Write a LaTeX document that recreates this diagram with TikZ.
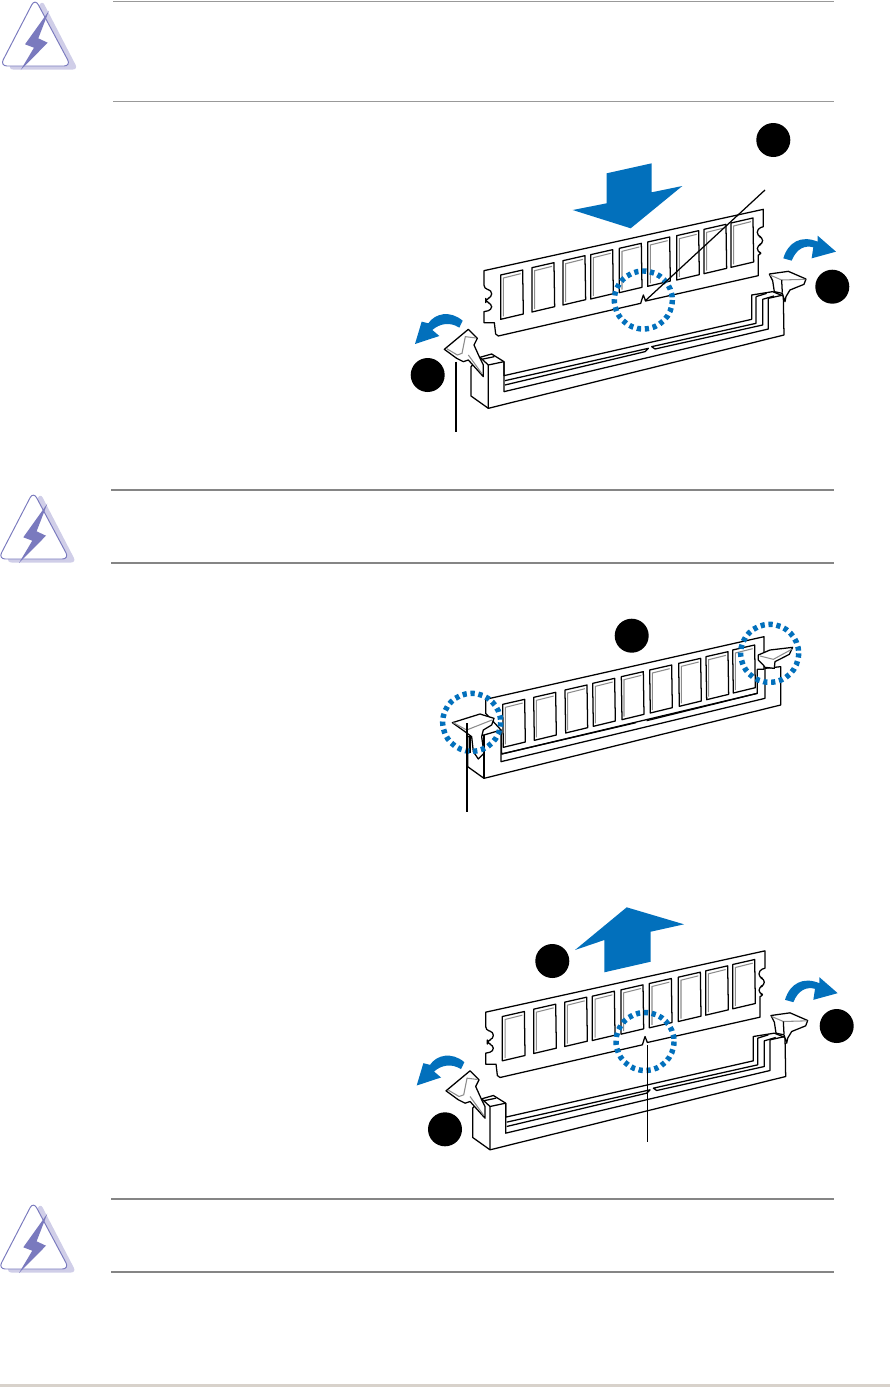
\documentclass[tikz,border=0pt]{standalone}
\definecolor{dimmblue}{RGB}{2,112,188}
\definecolor{boltblue}{RGB}{122,122,190}
\definecolor{boltshade}{RGB}{208,206,232}
\definecolor{footband}{RGB}{216,210,203}
\tikzset{
    ln/.style={draw=black, line width=0.72pt, line join=round},
    sheet/.style={ln, fill=white},
    grayln/.style={draw=black!45, line width=0.6pt},
    bigarr/.style={fill=dimmblue, draw=none},
    ring/.style={draw=dimmblue, line width=3.1pt, dash pattern=on 2.4pt off 2.13pt},
    blob/.style={circle, fill=black, draw=none, minimum size=0.68cm, inner sep=0pt},
    leader/.style={draw=black, line width=0.7pt},
    zoomed/.style={x=0.0066667cm, y=-0.0066667cm},
}
% module, socket and open latches, in 3x crop units
\newcommand{\openslot}[1]{%
\begin{scope}[shift={#1}, zoomed]
  \draw[sheet] (252,482) -- (1090,298) -- (1090,350) [rounded corners=2pt] -- (1072,356) -- (1072,378)
     -- (1088,382) -- (1088,402) -- (1072,406) -- (1072,426) -- (1088,430) [sharp corners] -- (1075,435) -- (1075,497)
     -- (737,573) -- (730,555) -- (722,580) -- (295,678) -- (287,672) -- (283,638) -- (252,638) -- (252,605)
     [rounded corners=2pt] -- (275,600) -- (275,581) -- (257,576) -- (257,567) -- (275,562) -- (275,541) -- (252,536) [sharp corners] -- cycle;
  \foreach \cx/\cy in {302/495, 396/473, 489/452, 572/434, 658/415, 743/396, 830/377, 912/358, 993/339} {
    \draw[ln] (\cx,\cy) -- ++(66,-15) -- ++(2,132) -- ++(-68,16) -- cycle;
    \draw[grayln] (\cx+8,\cy+124) -- (\cx+8,\cy+9) -- (\cx+60,\cy-4);
  }
  % socket body
  \draw[sheet] (213,795) -- (213,858) -- (265,895) -- (1152,675) -- (1150,558) -- (1118,545) -- (1055,555) -- (1055,628)
     -- (312,797) -- (312,755) -- (275,732) -- (240,742) -- (213,770) -- cycle;
  \draw[ln] (265,895) -- (265,765) -- (312,755);
  \draw[ln] (240,742) -- (265,765);
  \draw[ln] (245,748) -- (283,740);
  \draw[ln] (312,755) -- (312,845) -- (1105,657) -- (1105,565) -- (1150,555);
  \draw[ln] (315,812) -- (745,715) -- (735,725) -- (315,825);
  \draw[ln] (1068,560) -- (1068,640) -- (755,710) -- (765,717) -- (1088,645) -- (1088,568) -- (1122,558);
  \draw[ln] (1068,560) -- (1100,550);
  % left latch
  \draw[sheet] (133,718) -- (205,658) -- (232,685) -- (222,705) -- (240,745) -- (250,765) -- (250,800) -- (205,750)
     -- (190,755) -- (170,745) -- cycle;
  \draw[grayln] (140,716) -- (172,735) -- (186,730) -- (196,680) -- (228,684);
  \draw[grayln] (205,735) -- (245,790);
  % right latch
  \draw[sheet] (1108,492) -- (1165,484) -- (1218,507) -- (1212,523) -- (1170,540) -- (1158,560) -- (1155,575)
     -- (1147,550) -- (1123,545) -- (1118,512) -- cycle;
  \draw[grayln] (1110,495) -- (1145,510) -- (1216,508);
  \draw[ln] (1145,510) -- (1147,548);
  % lever arrows
  \path[bigarr] (188,632) .. controls (150,600) and (105,610) .. (85,640) -- (65,635) -- (45,702) -- (118,678) -- (97,660)
     .. controls (120,640) and (150,635) .. (178,653) -- cycle;
  \path[bigarr] (1150,445) .. controls (1165,395) and (1205,375) .. (1253,395) -- (1253,377) -- (1308,425) -- (1235,445) -- (1240,412)
     .. controls (1215,405) and (1190,415) .. (1175,452) -- cycle;
  % key ring
  \draw[ring] (730,570) circle[radius=87];
\end{scope}}
% warning sign, one per note
\newcommand{\warnsign}[1]{%
\begin{scope}[shift={#1}]
  \path[fill=boltshade, rounded corners=3pt] (42,0) -- (78,69.5) -- (8,69.5) -- cycle;
  \path[fill=white, draw=boltblue, line width=0.55pt, rounded corners=4pt] (35,-1.5) -- (71,66) -- (0,66) -- cycle;
  \path[fill=boltblue] (49,10.7) -- (25,44.3) -- (34,47.7) -- (20.7,70) -- (47.7,42.7) -- (38.3,38.3) -- cycle;
\end{scope}}
\begin{document}
\begin{tikzpicture}[
    x=0.02cm, y=-0.02cm,
    % Note rules
    notelight/.style={draw=black!40, line width=0.55pt},
    notedark/.style={draw=black!48, line width=0.9pt},
]
\useasboundingbox (0,0) rectangle (890,1387);

%% ── Page foot ──
\path[fill=footband] (0,1384) rectangle (890,1387);

%% ── Note 1 ──
\warnsign{(0,0)}
\draw[notelight] (113,1) -- (834,1);
\draw[notelight] (113,101) -- (834,101);

%% ── Install: y = 110 ──
\openslot{(400,110)}
\path[bigarr] (606.7,173.3) -- (651.7,163.3) -- (651.7,192.3) -- (682.3,186) -- (630.7,228.3) -- (572.7,210) -- (606.7,203.3) -- cycle;
\node[blob] (b1) at (773.3,140) {};
\node[blob] (b2) at (832.3,286.7) {};
\node[blob] (b3) at (427.7,375) {};
\coordinate (keytop) at (765,190);
\coordinate (keyend) at (645,301);
\coordinate (clipend) at (456,361.7);
\coordinate (clipfoot) at (456,431.7);
\draw[leader] (keytop) -- (keyend);
\draw[leader] (clipend) -- (clipfoot);

%% ── Note 2 ──
\warnsign{(-1.7,493)}
\draw[notedark] (111,490) -- (834,490);
\draw[notedark] (111,563) -- (834,563);

%% ── Seated: y = 610 ──
\begin{scope}[shift={(420,610)}, zoomed]
  \draw[sheet] (197,310) -- (197,268) -- (1032,80) -- (1032,178) -- (1012,178) -- (1012,250) -- (245,432) -- (243,360) -- cycle;
  \foreach \cx/\cy in {248/283, 341/262, 435/240, 518/220, 604/200, 689/180, 776/160, 858/140, 938/120} {
    \draw[ln] (\cx,\cy) -- ++(66,-15) -- ++(2,128) -- ++(-66,16) -- cycle;
    \draw[grayln] (\cx+8,\cy+120) -- (\cx+8,\cy+9) -- (\cx+60,\cy-4);
  }
  \draw[sheet] (143,380) -- (143,470) -- (192,505) -- (1082,285) -- (1082,170) -- (1035,175) -- (1035,265) -- (243,455) -- (243,360) -- (192,375) -- cycle;
  \draw[ln] (192,505) -- (192,375);
  \draw[ln] (245,432) -- (648,338);
  \draw[ln] (680,332) -- (1012,250);
  % latches
  \draw[sheet] (97,338) -- (180,312) -- (222,325) -- (215,345) -- (190,360) -- (185,380) -- (192,430) -- (175,447) -- (160,425) -- (155,380) -- (135,365) -- cycle;
  \draw[grayln] (100,338) -- (140,360) -- (216,330);
  \draw[ln] (150,378) -- (150,428);
  \draw[sheet] (1015,135) -- (1050,120) -- (1118,112) -- (1108,133) -- (1065,155) -- (1063,175) -- (1035,172) -- (1030,165) -- (1015,150) -- cycle;
  \draw[grayln] (1020,138) -- (1060,148) -- (1115,118);
  % rings
  \draw[ring] (155,337) circle[radius=87];
  \draw[ring] (1049,130) circle[radius=87];
\end{scope}
\node[blob] (b4) at (631.7,635.7) {};
\coordinate (tabend) at (467,723.3);
\coordinate (tabfoot) at (467,812.3);
\draw[leader] (tabend) -- (tabfoot);

%% ── Remove: y = 851 ──
\openslot{(401.7,851.5)}
\path[bigarr] (626.7,907.3) -- (684,924.3) -- (650.7,931.7) -- (650.7,961.7) -- (604.3,972.3) -- (604.3,940) -- (575,950) -- cycle;
\node[blob] (b5) at (552.3,961) {};
\node[blob] (b6) at (836.7,1026) {};
\node[blob] (b7) at (445,1129.3) {};
\coordinate (notchend) at (647.3,1045);
\coordinate (notchfoot) at (647.3,1141.7);
\draw[leader] (notchend) -- (notchfoot);

%% ── Note 3 ──
\warnsign{(-1.7,1203)}
\draw[notedark] (111,1199) -- (834,1199);
\draw[notedark] (111,1272) -- (834,1272);

\end{tikzpicture}
\end{document}
